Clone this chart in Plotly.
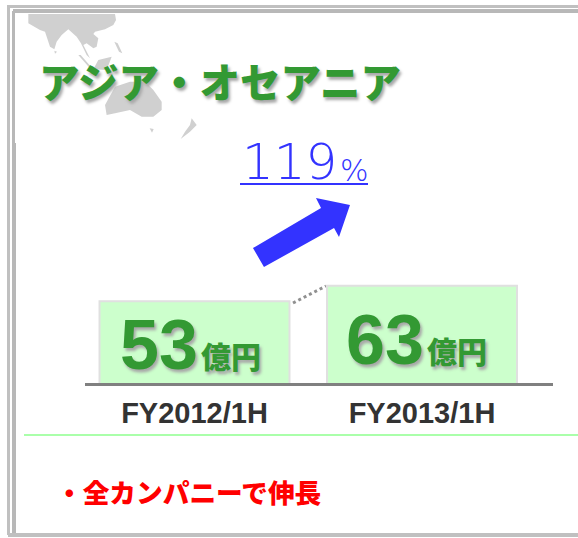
import plotly.graph_objects as go

W, H = 578, 538
categories = ["FY2012/1H", "FY2013/1H"]
values = [53, 63]
unit = "億円"
growth = "119"
title = "アジア・オセアニア"
note = "・全カンパニーで伸長"

JP = "'Noto Sans CJK JP', 'Noto Sans CJK SC', sans-serif"
LAT = "'Liberation Sans', Arial, sans-serif"
LIGHT = "'DejaVu Sans', sans-serif"
GREEN = "#339933"
BLUE = "#3333ff"
SHADOW = "2px 3px 3px #a8a8a8"

def path(pts):
    return "M" + " L".join(f"{x/W:.4f},{1-y/H:.4f}" for x, y in pts) + " Z"

def poly(pts, color):
    return dict(type="path", xref="paper", yref="paper", layer="below", path=path(pts),
                fillcolor=color, line=dict(width=0))

def land(pts):
    return poly([(15 + x/3, 10 + y/3) for x, y in pts], "#d0d0d0")

def seg(x0, y0, x1, y1, color, width, dash="solid"):
    return dict(type="line", xref="paper", yref="paper", x0=x0/W, x1=x1/W, y0=1-y0/H, y1=1-y1/H,
                layer="below", line=dict(color=color, width=width, dash=dash))

def text(x, y, s, size, color, family, anchor="left", shadow=None, weight="normal"):
    f = dict(size=size, color=color, family=family, weight=weight)
    if shadow:
        f["shadow"] = shadow
    return dict(xref="paper", yref="paper", x=x/W, y=1-y/H, text=s, showarrow=False,
                xanchor=anchor, yanchor="middle", font=f)

fig = go.Figure(go.Bar(
    x=[0, 1], y=values, width=0.835,
    marker=dict(color="#ccffcc", line=dict(color="#e0e0e0", width=2)),
    hoverinfo="skip",
))

shapes = [
    # frame
    seg(8.5, 6.5, 578, 6.5, "#c0c0c0", 3), seg(13, 11, 578, 11, "#b8b8b8", 4),
    seg(8.5, 5, 8.5, 535, "#c0c0c0", 3), seg(13.5, 11, 13.5, 143, "#b8b8b8", 3),
    seg(14, 143, 14, 535, "#b8b8b8", 4), seg(8, 535, 578, 535, "#c0c0c0", 4),
    # map
    land([(40,12),(300,12),(303,30),(295,45),(270,58),(240,65),(235,72),(250,85),(245,110),(235,115),
          (215,100),(205,105),(225,145),(215,135),(198,100),(185,80),(160,58),(140,75),(125,95),(118,118),
          (105,110),(90,65),(75,60),(40,40)]),
    land([(118,122),(126,125),(120,131)]),
    land([(190,135),(197,135),(228,170),(222,172)]),
    land([(250,150),(290,140),(275,180),(235,178)]),
    land([(298,95),(308,100),(322,130),(312,125)]),
    land([(270,285),(300,230),(345,215),(390,215),(415,240),(440,275),(440,300),(415,320),(380,320),
          (345,300),(300,310),(275,315)]),
    land([(404,355),(416,357),(411,368)]),
    land([(530,325),(545,345),(525,365),(497,387),(510,365),(525,345)]),
    # connector, note rule, underline, arrow
    seg(293, 303, 326, 286, "#909090", 3, "dot"),
    seg(24, 435, 578, 435, "#aaffaa", 2),
    seg(240, 184, 368, 184, BLUE, 2),
    poly([(253,248),(264,267),(334,228),(339,237),(350,205),(316,198),(321,208)], BLUE),
]

ann = [
    text(37, 80, title, 40.5, GREEN, JP, shadow=SHADOW, weight=900),
    text(240, 162, growth, 50, BLUE, LIGHT, weight=200),
    text(338, 170, "%", 30, BLUE, LIGHT, weight=200),
    text(54, 492, note, 26.7, "#ff0000", JP, weight=900),
]
for cx, cy, v in zip((159, 385), (345, 340), values):
    ann.append(text(cx, cy, str(v), 70, GREEN, LAT, "center", SHADOW, "bold"))
    ann.append(text(cx + 72, cy + 10, unit, 30, GREEN, JP, "center", SHADOW, 900))

fig.update_layout(
    width=W, height=H, margin=dict(l=0, r=0, t=0, b=0), autosize=False,
    paper_bgcolor="#ffffff", plot_bgcolor="rgba(0,0,0,0)", showlegend=False,
    shapes=shapes, annotations=ann,
    xaxis=dict(domain=[85/W, 553/W], range=[(85-194.5)/227.5, (553-194.5)/227.5],
               tickvals=[0, 1], ticktext=categories, showgrid=False, zeroline=False,
               showline=True, linecolor="#808080", linewidth=3, ticks="",
               anchor="free", position=(H-384)/H, ticklabelstandoff=2,
               tickfont=dict(family=LAT, size=29, color="#333333", weight="bold")),
    yaxis=dict(domain=[0, 1], range=[-(H-384)/1.56, 384/1.56], visible=False),
)
fig.write_html("out.html", config={"displayModeBar": False},
               post_script="document.body.style.margin='0';document.body.style.overflow='hidden';")
